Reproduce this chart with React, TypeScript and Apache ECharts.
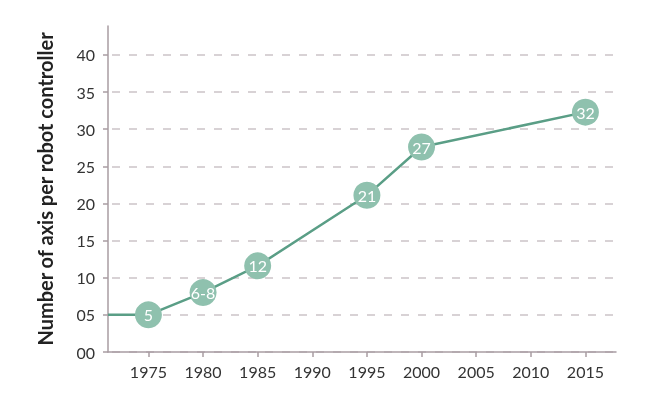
import React, { useEffect, useRef } from "react";
import * as echarts from "echarts";

// years and number of axes
const years = [1971.3, 1975, 1980, 1985, 1995, 2000, 2015];
const axisCounts = [5, 5, 8, 11.6, 21.1, 27.6, 32.3];
const pointLabels = ["", "5", "6-8", "12", "21", "27", "32"];
const yearTicks = [1975, 1980, 1985, 1990, 1995, 2000, 2005, 2010, 2015];
const countTicks = [0, 5, 10, 15, 20, 25, 30, 35, 40];

const App: React.FC = () => {
  const chartRef = useRef<HTMLDivElement>(null);

  useEffect(() => {
    if (!chartRef.current) return;
    const chart = echarts.init(chartRef.current, undefined, { renderer: "svg" });

    const points = years.map((y, i) => ({
      value: [y, axisCounts[i]],
      symbolSize: pointLabels[i] ? 27 : 0,
      label: { show: !!pointLabels[i], formatter: pointLabels[i] },
    }));

    chart.setOption({
      animation: false,
      textStyle: { fontFamily: "Lato" },
      grid: { left: 108, right: 34, top: 26, bottom: 60 },
      xAxis: {
        type: "value",
        min: 1971.3,
        max: 2017.8,
        axisLine: { lineStyle: { color: "#a89ca2", width: 1.5 } },
        axisTick: {
          customValues: yearTicks,
          length: 5,
          lineStyle: { color: "#a89ca2", width: 1.5 },
        },
        axisLabel: {
          customValues: yearTicks,
          color: "#333",
          fontSize: 16,
          margin: 11,
          formatter: (v: number) => String(v),
        },
        splitLine: { show: false },
      },
      yAxis: {
        type: "value",
        min: 0,
        max: 43.9,
        name: "Number of axis per robot controller",
        nameLocation: "middle",
        nameGap: 53,
        nameTextStyle: { fontSize: 20, fontWeight: "bold", color: "#222" },
        axisLine: { show: true, lineStyle: { color: "#a89ca2", width: 1.5 } },
        axisTick: {
          show: true,
          customValues: countTicks,
          length: 5,
          lineStyle: { color: "#a89ca2", width: 1.5 },
        },
        axisLabel: {
          customValues: countTicks,
          color: "#333",
          fontSize: 16,
          margin: 13,
          formatter: (v: number) => String(v).padStart(2, "0"),
        },
        splitLine: {
          show: true,
          lineStyle: { color: "#cbc3c7", width: 1.5, type: [8, 9], dashOffset: -4 },
        },
      },
      series: [
        {
          type: "line",
          data: points,
          symbol: "circle",
          lineStyle: { color: "#5a9e86", width: 2.5 },
          itemStyle: { color: "#8fc1ae" },
          label: {
            position: "inside",
            color: "#fff",
            fontSize: 16,
            fontFamily: "Lato",
          },
          z: 3,
        },
      ],
    });

    return () => {
      chart.dispose();
    };
  }, []);

  return (
    <div
      ref={chartRef}
      style={{ position: "fixed", left: 0, top: 0, width: 650, height: 412 }}
    />
  );
};

export default App;
